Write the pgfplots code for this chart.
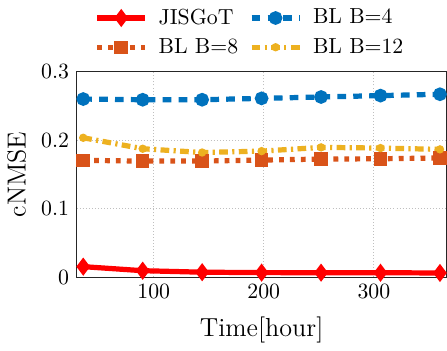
\documentclass[border=0pt]{standalone}
\usepackage{pgfplots}
\pgfplotsset{compat=1.18}
\definecolor{mred}{rgb}{1,0,0}
\definecolor{mblue}{rgb}{0,0.447,0.741}
\definecolor{morange}{rgb}{0.85,0.325,0.098}
\definecolor{myellow}{rgb}{0.929,0.694,0.125}
\begin{document}
\begin{tikzpicture}
\begin{axis}[
  scale only axis,
  width=170pt, height=94.5pt,
  xmin=30, xmax=366, ymin=0, ymax=0.3,
  xtick={100,200,300}, ytick={0,0.1,0.2,0.3},
  yticklabels={0,0.1,0.2,0.3},
  grid=major, major grid style={densely dotted, gray!50},
  axis line style={gray!30!black},
  tick style={draw=none},
  xlabel={\large Time[hour]}, ylabel={\large cNMSE},
  xlabel style={yshift=-1.5pt},
  legend columns=2,
  legend style={at={(0.03,1.03)}, anchor=south west, draw=none, fill=none, font=\normalsize, column sep=3pt, row sep=1pt},
  legend cell align=left,
  legend image code/.code={\draw[mark repeat=2,mark phase=2] plot coordinates {(0pt,0pt) (11pt,0pt) (22pt,0pt)};},
]
\addplot[mred, line width=2.4pt, mark=diamond*, mark size=2.2pt, mark options={solid}] coordinates {
(36,0.0155) (90,0.0096) (144,0.0074) (198,0.0068) (252,0.0067) (306,0.0066) (360,0.0063)};
\addlegendentry{JISGoT}
\addplot[mblue, line width=2.4pt, dash pattern=on 4pt off 3.3pt, mark=*, mark size=1.9pt, mark options={solid}] coordinates {
(36,0.260) (90,0.259) (144,0.259) (198,0.261) (252,0.263) (306,0.265) (360,0.267)};
\addlegendentry{BL B=4}
\addplot[morange, line width=2.4pt, dash pattern=on 2.2pt off 2.8pt, mark=square*, mark size=1.9pt, mark options={solid}] coordinates {
(36,0.1706) (90,0.1695) (144,0.1695) (198,0.171) (252,0.1724) (306,0.1729) (360,0.174)};
\addlegendentry{BL B=8}
\addplot[myellow, line width=2.4pt, dash pattern=on 4pt off 2pt on 1pt off 2pt, mark=*, mark size=1.5pt, mark options={solid, line width=0.8pt}] coordinates {
(36,0.2035) (90,0.1875) (144,0.182) (198,0.184) (252,0.1895) (306,0.1885) (360,0.1866)};
\addlegendentry{BL B=12}
\end{axis}
\end{tikzpicture}
\end{document}
